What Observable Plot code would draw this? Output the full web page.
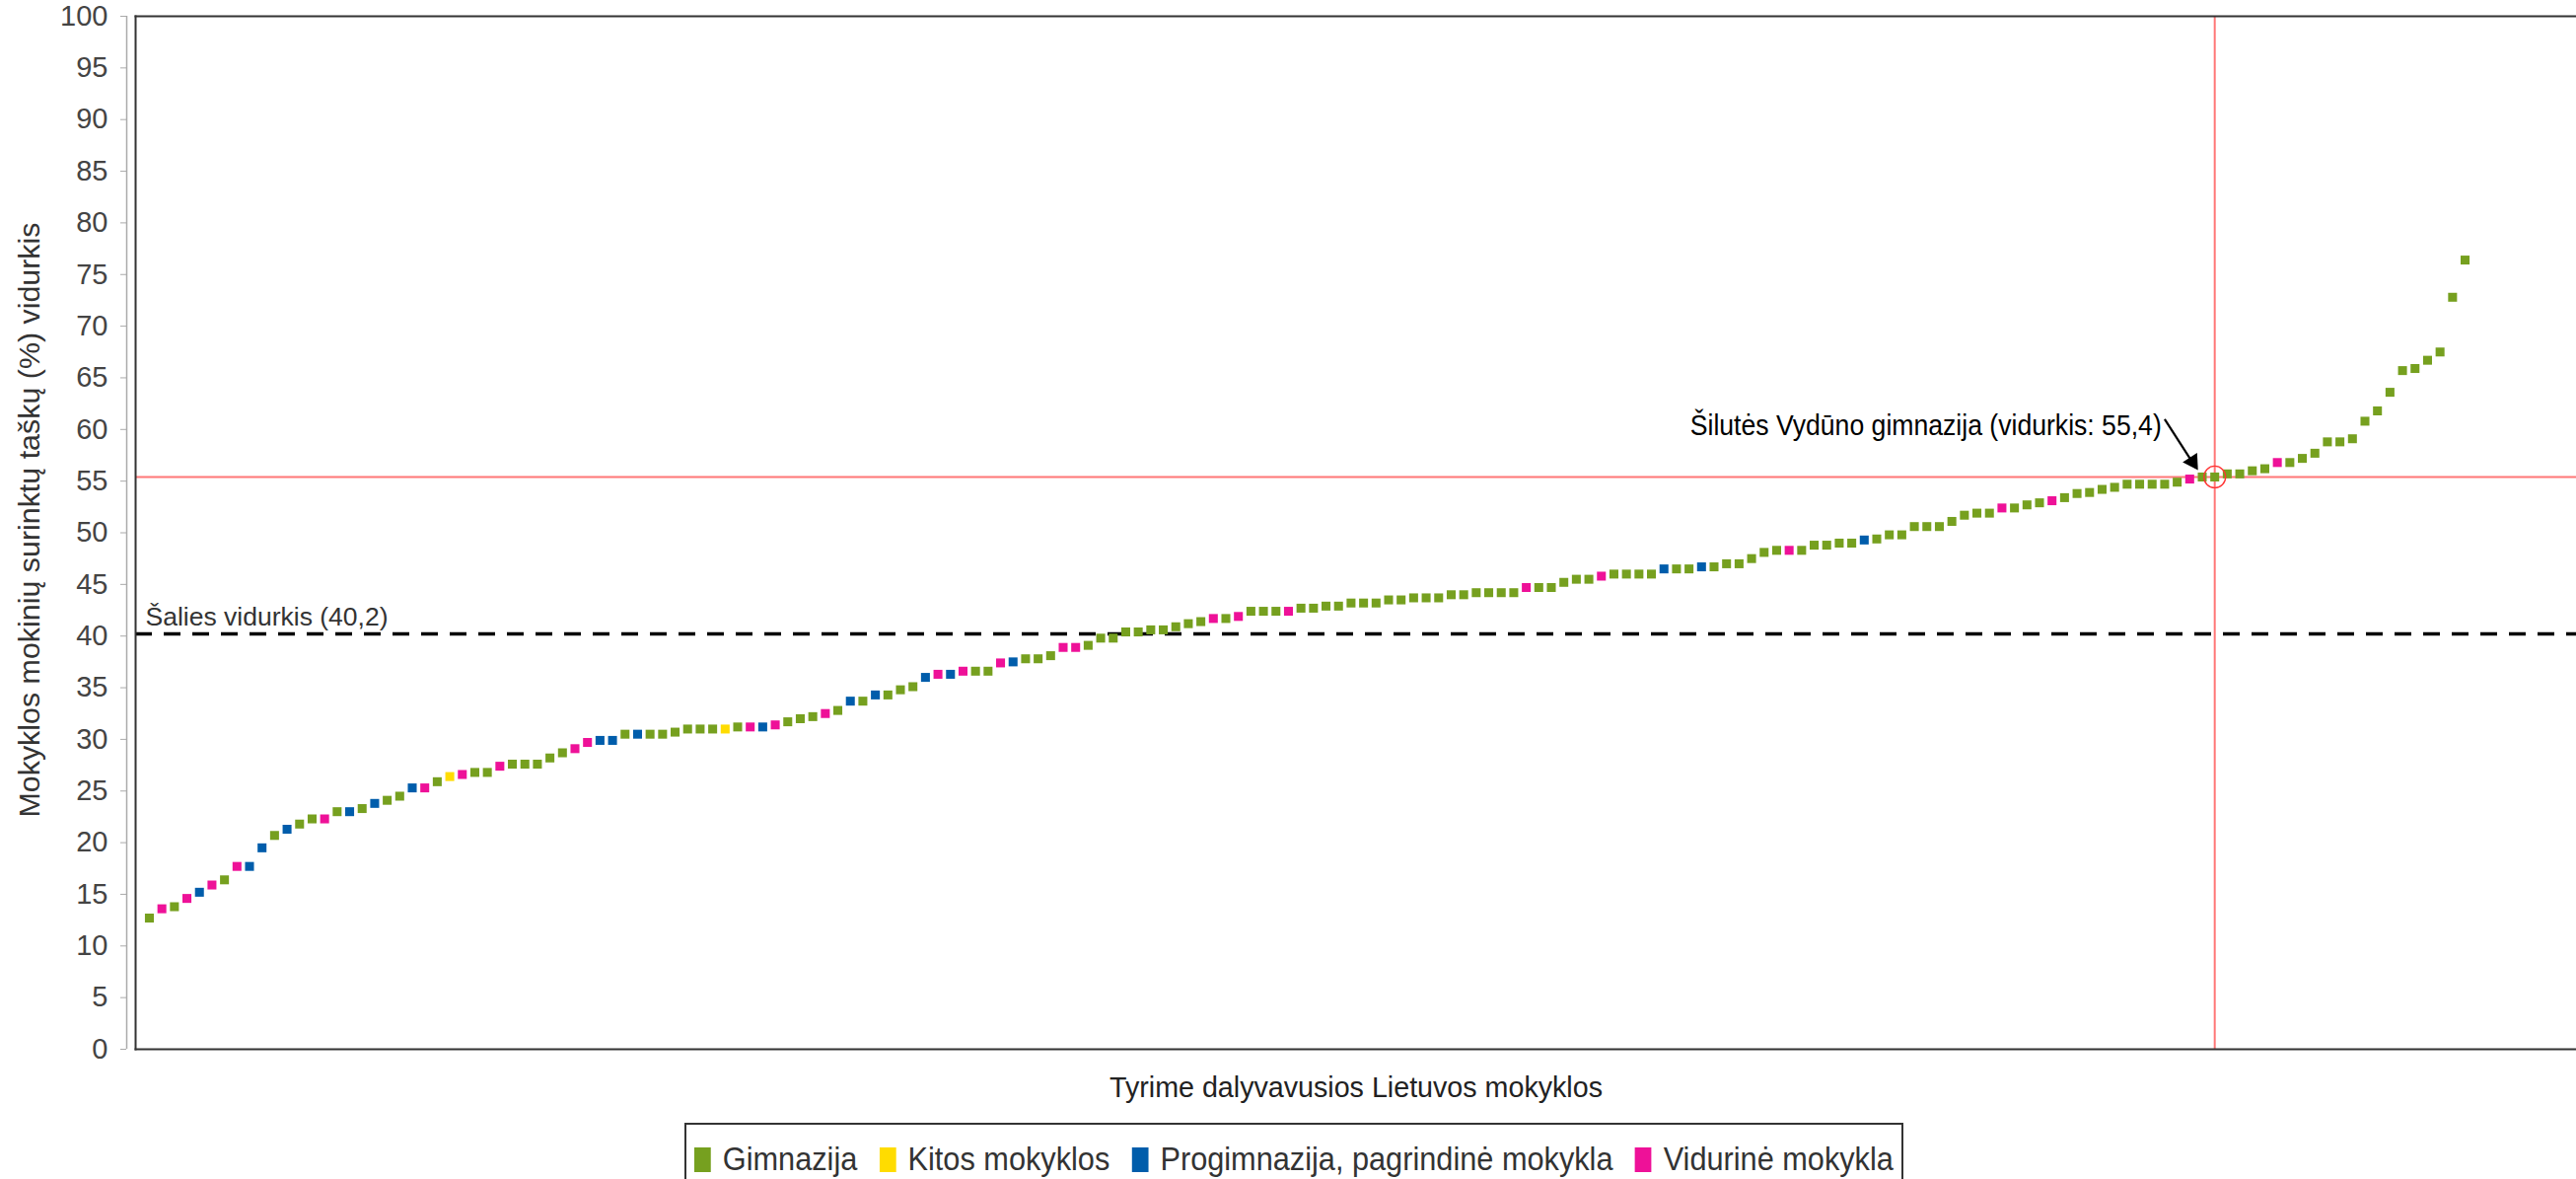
<!DOCTYPE html>
<html><head><meta charset="utf-8">
<script src="https://cdn.jsdelivr.net/npm/d3@7"></script>
<script src="https://cdn.jsdelivr.net/npm/@observablehq/plot@0.6"></script>
<style>
body{margin:0;background:#fff;width:2612px;height:1195px;overflow:hidden;position:relative;}
#chart svg{display:block;}
#chart [aria-label="y-axis tick"]{stroke:#aaa;}
#legend{position:absolute;top:1138px;left:694px;width:1236px;height:80px;border:2px solid #333;border-bottom:none;box-sizing:border-box;}
#legend .inner{position:absolute;left:8px;top:13px;height:44px;display:flex;align-items:center;white-space:nowrap;transform-origin:0 50%;
  font-family:"Liberation Sans",sans-serif;font-size:33px;color:#333;}
#legend .item{display:flex;align-items:center;margin-right:24px;}
#legend .item:last-child{margin-right:0;}
#legend .sw{width:18px;height:25px;margin-right:13px;display:inline-block;}
</style></head><body>
<div id="chart"></div>
<div id="legend"></div>
<script>
const schoolTypes = ["Gimnazija", "Kitos mokyklos", "Progimnazija, pagrindinė mokykla", "Vidurinė mokykla"];
const typeColors = ["#76A01F", "#FFDC00", "#005DAB", "#EE1198"];
const typeKeys = ["G", "K", "P", "V"];
const scores = [
  12.7, 13.6, 13.8, 14.6, 15.2, 15.9, 16.4, 17.7, 17.7, 19.5,
  20.7, 21.3, 21.8, 22.3, 22.3, 23.0, 23.0, 23.3, 23.8, 24.1,
  24.5, 25.3, 25.3, 25.9, 26.4, 26.6, 26.8, 26.8, 27.4, 27.6,
  27.6, 27.6, 28.2, 28.7, 29.1, 29.7, 29.9, 29.9, 30.5, 30.5,
  30.5, 30.5, 30.7, 31.0, 31.0, 31.0, 31.0, 31.2, 31.2, 31.2,
  31.4, 31.7, 32.0, 32.2, 32.5, 32.8, 33.7, 33.7, 34.3, 34.3,
  34.8, 35.1, 36.0, 36.3, 36.3, 36.6, 36.6, 36.6, 37.4, 37.5,
  37.8, 37.8, 38.1, 38.9, 38.9, 39.1, 39.8, 39.8, 40.4, 40.4,
  40.6, 40.6, 40.9, 41.2, 41.4, 41.7, 41.7, 41.9, 42.4, 42.4,
  42.4, 42.4, 42.7, 42.7, 42.9, 42.9, 43.2, 43.2, 43.2, 43.5,
  43.5, 43.7, 43.7, 43.7, 44.0, 44.0, 44.2, 44.2, 44.2, 44.2,
  44.7, 44.7, 44.7, 45.2, 45.5, 45.5, 45.8, 46.0, 46.0, 46.0,
  46.0, 46.5, 46.5, 46.5, 46.7, 46.7, 47.0, 47.0, 47.5, 48.1,
  48.3, 48.3, 48.3, 48.8, 48.8, 49.0, 49.0, 49.3, 49.4, 49.8,
  49.8, 50.6, 50.6, 50.6, 51.1, 51.7, 51.9, 51.9, 52.4, 52.4,
  52.7, 52.9, 53.1, 53.4, 53.8, 53.9, 54.2, 54.4, 54.7, 54.7,
  54.7, 54.7, 54.9, 55.2, 55.4, 55.4, 55.7, 55.7, 56.0, 56.2,
  56.8, 56.8, 57.2, 57.7, 58.8, 58.8, 59.1, 60.8, 61.8, 63.6,
  65.7, 65.9, 66.7, 67.5, 72.8, 76.4
];
const typeCodes = [
  "G","V","G","V","P","V","G","V","P","P",
  "G","P","G","G","V","G","P","G","P","G",
  "G","P","V","G","K","V","G","G","V","G",
  "G","G","G","G","V","V","P","P","G","P",
  "G","G","G","G","G","G","K","G","V","P",
  "V","G","G","G","V","G","P","G","P","G",
  "G","G","P","V","P","V","G","G","V","P",
  "G","G","G","V","V","G","G","G","G","G",
  "G","G","G","G","G","V","G","V","G","G",
  "G","V","G","G","G","G","G","G","G","G",
  "G","G","G","G","G","G","G","G","G","G",
  "V","G","G","G","G","G","V","G","G","G",
  "G","P","G","G","P","G","G","G","G","G",
  "G","V","G","G","G","G","G","P","G","G",
  "G","G","G","G","G","G","G","G","V","G",
  "G","G","V","G","G","G","G","G","G","G",
  "G","G","G","V","G","G","G","G","G","G",
  "V","G","G","G","G","G","G","G","G","G",
  "G","G","G","G","G","G"
];
const yTicks = [0, 5, 10, 15, 20, 25, 30, 35, 40, 45, 50, 55, 60, 65, 70, 75, 80, 85, 90, 95, 100];
const nationalAverage = 40.2;
const highlightIndex = 165;
const highlightScore = 55.4;
const highlightLabel = "Šilutės Vydūno gimnazija (vidurkis: 55,4)";
const averageLabel = "Šalies vidurkis (40,2)";
const xTitle = "Tyrime dalyvavusios Lietuvos mokyklos";
const yTitle = "Mokyklos mokinių surinktų taškų (%) vidurkis";

const xDomain = [-1.1, 193.9];
const sans = "'Liberation Sans', sans-serif";

const schools = scores.map((v, i) => ({i, v, type: schoolTypes[typeKeys.indexOf(typeCodes[i])]}));
const highlight = [{i: highlightIndex, v: highlightScore}];

const chart = Plot.plot({
  width: 2612,
  height: 1120,
  marginLeft: 137,
  marginRight: 0,
  marginTop: 16,
  marginBottom: 57,
  style: {fontFamily: sans, fontSize: "29px", background: "#fff"},
  x: {domain: xDomain, axis: null},
  y: {domain: [0, 100], axis: null},
  color: {domain: schoolTypes, range: typeColors},
  marks: [
    Plot.ruleY([nationalAverage], {stroke: "#000", strokeWidth: 3.5, strokeDasharray: "17,12"}),
    Plot.ruleY([highlightScore], {stroke: "#F77", strokeWidth: 2}),
    Plot.ruleX([highlightIndex], {stroke: "#F77", strokeWidth: 2}),
    Plot.dot(schools, {x: "i", y: "v", symbol: "square", r: 5.1, fill: "type", stroke: null}),
    Plot.dot(highlight, {x: "i", y: "v", r: 11, stroke: "#F33", fill: "none", strokeWidth: 1.3}),
    Plot.link(highlight, {x1: d => d.i - 4, y1: d => d.v + 5.6, x2: d => d.i - 1.5, y2: d => d.v + 0.9,
      stroke: "#000", strokeWidth: 2.2}),
    Plot.dot(highlight, {x: d => d.i - 1.77, y: d => d.v + 1.47, symbol: "triangle", r: 6.5, rotate: 147,
      fill: "#000", stroke: null}),
    Plot.text(highlight, {x: d => d.i - 4.25, y: d => d.v + 4.9, text: () => highlightLabel,
      textAnchor: "end", fontSize: 29, fill: "#000"}),
    Plot.text([averageLabel], {x: () => xDomain[0], y: () => nationalAverage + 1.6, text: d => d,
      textAnchor: "start", dx: 10, fontSize: 26, fill: "#333"}),
    Plot.ruleX([xDomain[0]], {dx: -9, stroke: "#aaa", strokeWidth: 1.5}),
    Plot.axisY(yTicks, {anchor: "left", tickSize: 6, tickPadding: 13, dx: -9, label: null,
      fontSize: 29, color: "#444"}),
    Plot.frame({anchor: "left", stroke: "#333", strokeWidth: 2}),
    Plot.frame({anchor: "top", stroke: "#333", strokeWidth: 2}),
    Plot.frame({anchor: "bottom", stroke: "#333", strokeWidth: 2}),
    Plot.text([yTitle], {frameAnchor: "left", text: d => d, rotate: -90, textAnchor: "middle",
      lineAnchor: "middle", dx: -107, dy: -13, fontSize: 30, fill: "#333"}),
    Plot.text([xTitle], {frameAnchor: "bottom", text: d => d, dy: 48, fontSize: 29, fill: "#222"})
  ]
});
document.getElementById("chart").append(chart);

// Fit the condensed texts to the widths they take in the reference
const fitLengths = new Map([[yTitle, 603], [xTitle, 500], [highlightLabel, 478], [averageLabel, 246]]);
chart.querySelectorAll("text").forEach(t => {
  const len = fitLengths.get(t.textContent);
  if (len) {
    t.setAttribute("textLength", len);
    t.setAttribute("lengthAdjust", "spacingAndGlyphs");
  }
});

const legend = document.getElementById("legend");
const inner = document.createElement("div");
inner.className = "inner";
schoolTypes.forEach((t, k) => {
  const item = document.createElement("div");
  item.className = "item";
  const sw = document.createElement("span");
  sw.className = "sw";
  sw.style.background = typeColors[k];
  const label = document.createElement("span");
  label.textContent = t;
  item.append(sw, label);
  inner.append(item);
});
legend.append(inner);
const legendSpan = 1224 - 8;
inner.style.transform = `scaleX(${legendSpan / inner.scrollWidth})`;
</script>
</body></html>
